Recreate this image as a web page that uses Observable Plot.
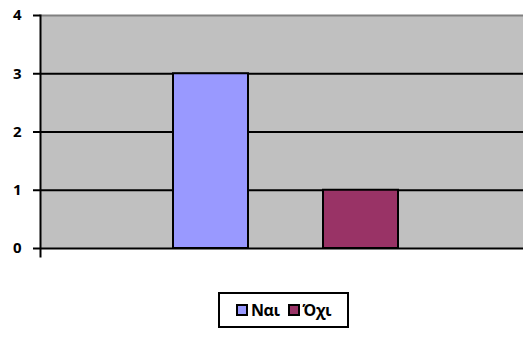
<!DOCTYPE html>
<html>
<head>
<meta charset="utf-8">
<script src="https://cdn.jsdelivr.net/npm/d3@7"></script>
<script src="https://cdn.jsdelivr.net/npm/@observablehq/plot@0.6"></script>
<style>
  body { margin: 0; background: #fff; font-family: "Open Sans", sans-serif; }
  #wrap { width: 523px; height: 338px; position: relative; }
  #legend { position: absolute; left: 218px; top: 292px; width: 127px; height: 32px;
    border: 2px solid #000; box-sizing: content-box; display: flex; align-items: center;
    justify-content: center; gap: 8px; font-weight: bold; font-size: 16px; letter-spacing: -0.4px; color: #000; }
  .item { display: flex; align-items: center; gap: 3px; }
  .sw { width: 8px; height: 8px; border: 2px solid #000; }
</style>
</head>
<body>
<div id="wrap"></div>
<script>
const categories = ["Ναι", "Όχι"];
const values = [3, 1];
const colors = ["#9999ff", "#993366"];
const yTicks = [0, 1, 2, 3, 4];
const gridValues = [1, 2, 3];

const data = categories.map((c, i) => ({cat: c, value: values[i]}));

const chart = Plot.plot({
  width: 523,
  height: 265,
  marginLeft: 40,
  marginRight: 0,
  marginTop: 15,
  marginBottom: 17,
  style: {fontFamily: "Open Sans, sans-serif", background: "#fff", color: "#000"},
  x: {domain: categories, paddingInner: 0.5, paddingOuter: 0.855, align: 0.514, axis: null},
  y: {domain: [0, 4], label: null},
  color: {domain: categories, range: colors},
  marks: [
    Plot.frame({fill: "#c0c0c0"}),
    Plot.ruleY(gridValues, {stroke: "#000", strokeWidth: 2}),
    Plot.ruleY([4], {stroke: "#808080", strokeWidth: 2}),
    Plot.barY(data, {x: "cat", y: "value", fill: "cat", stroke: "#000", strokeWidth: 2}),
    Plot.ruleY([0], {stroke: "#000", strokeWidth: 2}),
    Plot.frame({anchor: "left", stroke: "#000", strokeWidth: 2, insetBottom: -8}),
    Plot.axisY({ticks: yTicks, label: null, tickSize: 7, tickPadding: 12, tickFormat: d => String(d),
      fontWeight: "bold", fontSize: 15, stroke: "#000", strokeWidth: 2})
  ]
});
document.getElementById("wrap").appendChild(chart);

const legend = document.createElement("div");
legend.id = "legend";
categories.forEach((c, i) => {
  const item = document.createElement("div");
  item.className = "item";
  const sw = document.createElement("div");
  sw.className = "sw";
  sw.style.background = colors[i];
  const t = document.createElement("span");
  t.textContent = c;
  item.appendChild(sw);
  item.appendChild(t);
  legend.appendChild(item);
});
document.getElementById("wrap").appendChild(legend);
</script>
</body>
</html>
